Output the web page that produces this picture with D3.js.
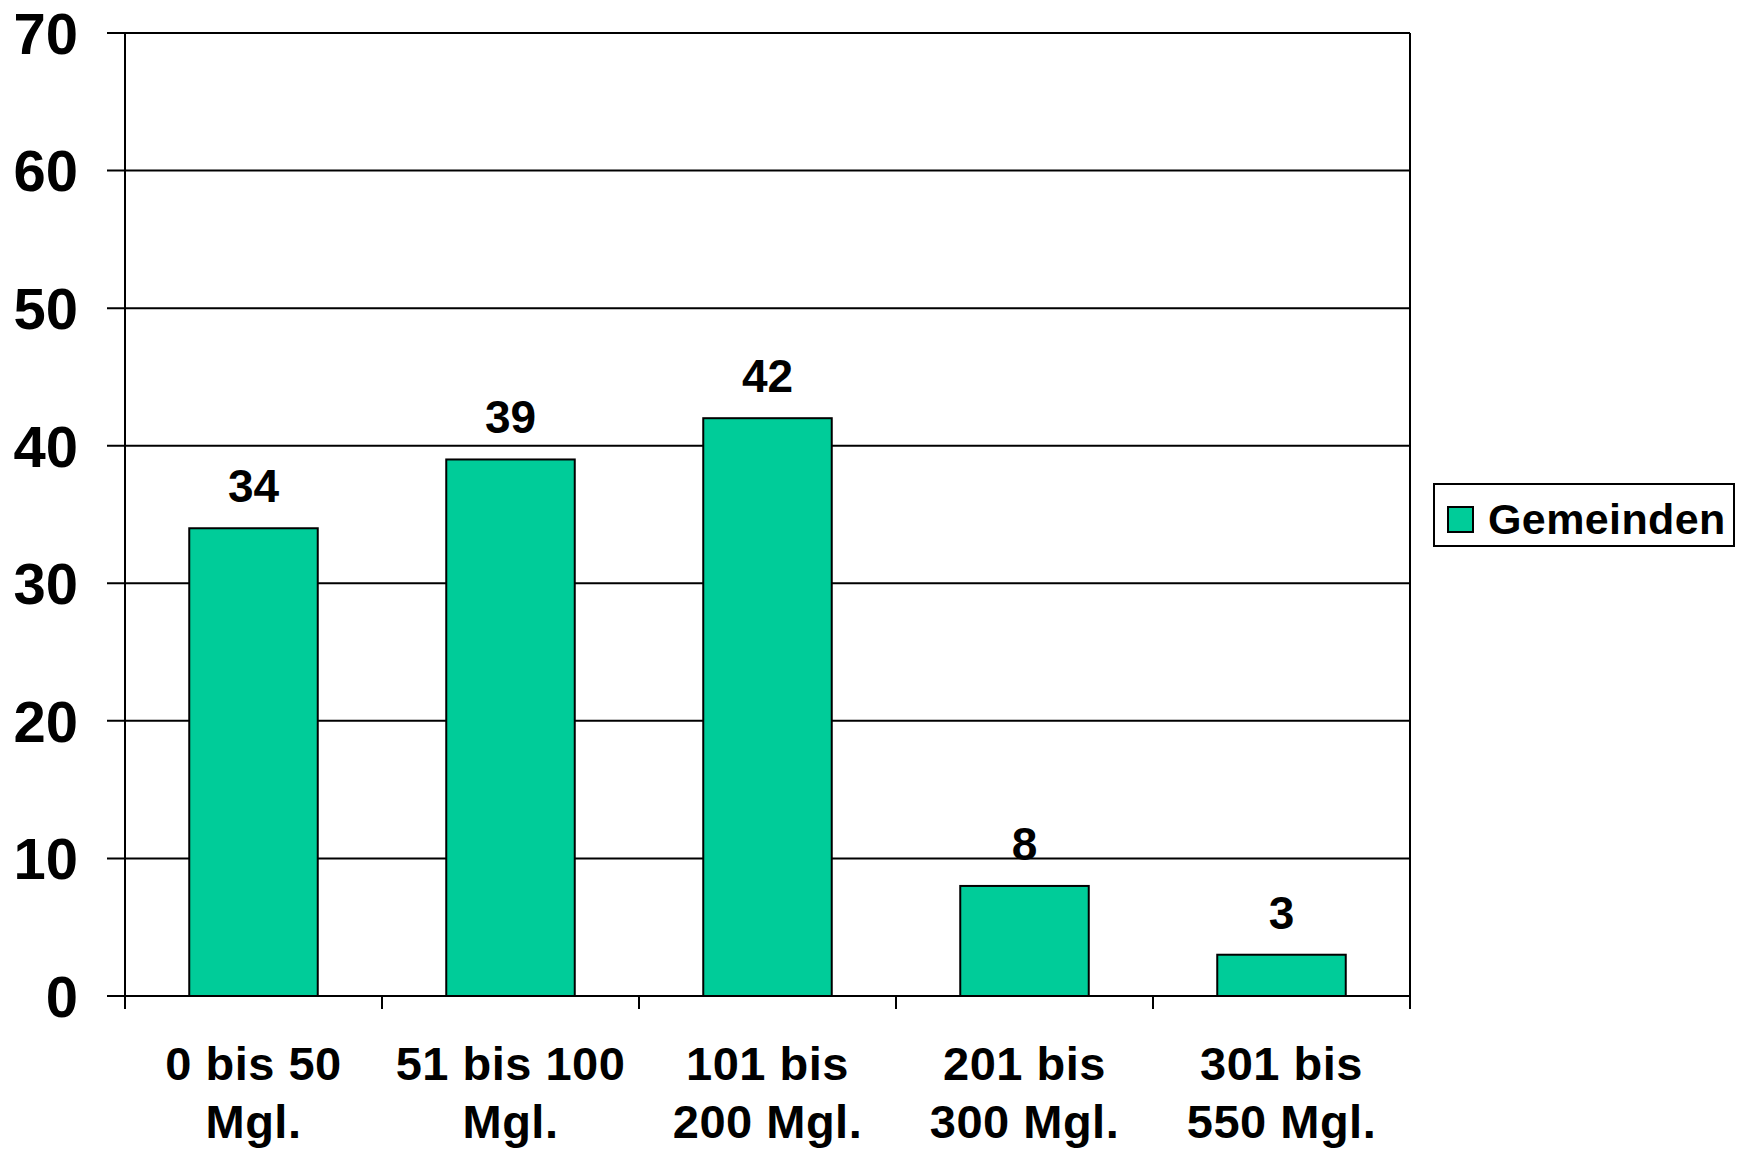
<!DOCTYPE html>
<html><head><meta charset="utf-8">
<script src="https://cdn.jsdelivr.net/npm/d3@7"></script>
<style>body{margin:0;background:#fff}svg{display:block}text{font-family:"Liberation Sans",Arial,sans-serif;font-weight:bold;fill:#000}</style>
</head><body>
<script>
const categories = [["0 bis 50","Mgl."],["51 bis 100","Mgl."],["101 bis","200 Mgl."],["201 bis","300 Mgl."],["301 bis","550 Mgl."]];
const values = [34, 39, 42, 8, 3];
const yTicks = [0,10,20,30,40,50,60,70];
const seriesName = "Gemeinden";

const W=1744,H=1149;
const m={left:125,right:1410,top:33,bottom:996};
const svg=d3.select("body").append("svg").attr("width",W).attr("height",H);
const x=d3.scaleBand().domain(d3.range(values.length)).range([m.left,m.right]).paddingInner(0.5).paddingOuter(0.25);
const y=d3.scaleLinear().domain([0,70]).range([m.bottom,m.top]);

// gridlines
svg.append("g").selectAll("line").data(yTicks).join("line")
  .attr("x1",m.left-18).attr("x2",m.right).attr("y1",d=>y(d)).attr("y2",d=>y(d))
  .attr("stroke","#000").attr("stroke-width",2);
// frame
svg.append("line").attr("x1",m.left).attr("x2",m.left).attr("y1",m.top).attr("y2",m.bottom+13).attr("stroke","#000").attr("stroke-width",2);
svg.append("line").attr("x1",m.right).attr("x2",m.right).attr("y1",m.top).attr("y2",m.bottom+13).attr("stroke","#000").attr("stroke-width",2);
// x ticks at band boundaries
const step=x.step();
svg.append("g").selectAll("line").data(d3.range(1,values.length)).join("line")
  .attr("x1",d=>m.left+d*step).attr("x2",d=>m.left+d*step).attr("y1",m.bottom).attr("y2",m.bottom+13)
  .attr("stroke","#000").attr("stroke-width",2);
// y labels
svg.append("g").selectAll("text").data(yTicks).join("text")
  .attr("x",78).attr("y",d=>y(d)).attr("dy","0.36em").attr("text-anchor","end")
  .attr("font-size",58).text(d=>d);
// bars
svg.append("g").selectAll("rect").data(values).join("rect")
  .attr("x",(d,i)=>x(i)).attr("width",x.bandwidth())
  .attr("y",d=>y(d)).attr("height",d=>y(0)-y(d))
  .attr("fill","#00CC99").attr("stroke","#000").attr("stroke-width",2);
// value labels
svg.append("g").selectAll("text").data(values).join("text")
  .attr("x",(d,i)=>x(i)+x.bandwidth()/2).attr("y",d=>y(d)-26)
  .attr("text-anchor","middle").attr("font-size",46).text(d=>d);
// category labels
const cl=svg.append("g").selectAll("text").data(categories).join("text")
  .attr("text-anchor","middle").attr("font-size",47).attr("letter-spacing",0.5);
cl.each(function(d,i){
  const t=d3.select(this);
  d.forEach((line,j)=>t.append("tspan").attr("x",x(i)+x.bandwidth()/2).attr("y",1080+j*58).text(line));
});
// legend
const lg=svg.append("g");
lg.append("rect").attr("x",1434).attr("y",484).attr("width",300).attr("height",62).attr("fill","#fff").attr("stroke","#000").attr("stroke-width",2);
lg.append("rect").attr("x",1448).attr("y",507).attr("width",25).attr("height",25).attr("fill","#00CC99").attr("stroke","#000").attr("stroke-width",2);
lg.append("text").attr("x",1488).attr("y",534).attr("font-size",43).attr("letter-spacing",0.4).text(seriesName);
</script>
</body></html>
